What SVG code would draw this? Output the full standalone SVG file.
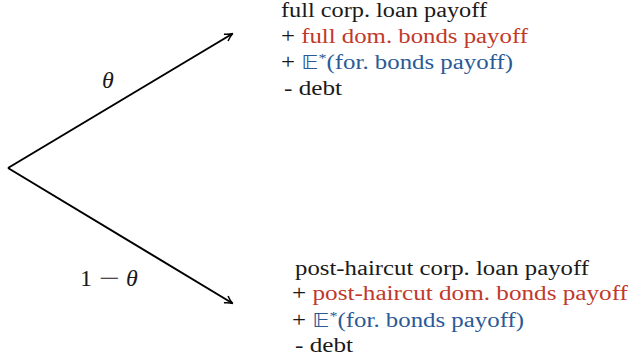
<svg xmlns="http://www.w3.org/2000/svg" width="629" height="362" viewBox="0 0 629 362">
<style>
.t{font-family:"Liberation Serif","DejaVu Serif",serif;font-size:20px;fill:#1a1a1a}
.r{fill:#c0392b}
.b{fill:#2a5a96}
.m{font-family:"Liberation Serif",serif;font-style:italic;font-size:24px;fill:#1a1a1a}
.n{font-style:normal}
.e{font-family:"DejaVu Sans",sans-serif;font-size:19px}
.c{stroke:#000;stroke-width:2;fill:none}
</style>
<defs>
<marker id="ah" markerWidth="12" markerHeight="12" refX="9" refY="6" orient="auto" markerUnits="userSpaceOnUse">
<path d="M2,2 Q6,5 10,6 Q6,7 2,10" fill="none" stroke="#000" stroke-width="1.5"/>
</marker>
</defs>
<rect width="629" height="362" fill="#fff"/>
<g id="connectors">
<line class="c" x1="8" y1="168" x2="232" y2="34" marker-end="url(#ah)"/>
<line class="c" x1="8" y1="168" x2="232" y2="303" marker-end="url(#ah)"/>
<text class="m" x="102" y="88">θ</text>
<text class="m" y="286"><tspan class="n" x="80">1</tspan><tspan class="n" x="99" textLength="21" lengthAdjust="spacingAndGlyphs">−</tspan><tspan x="126">θ</tspan></text>
</g>
<g id="top">
<text class="t" x="281" y="17" textLength="206" lengthAdjust="spacingAndGlyphs">full corp. loan payoff</text>
<text class="t" x="281" y="43" textLength="247" lengthAdjust="spacingAndGlyphs">+ <tspan class="r">full dom. bonds payoff</tspan></text>
<text class="t" x="281" y="69" textLength="232" lengthAdjust="spacingAndGlyphs">+ <tspan class="b"><tspan class="e">𝔼</tspan><tspan font-size="13" dy="-7">*</tspan><tspan dy="7">(for. bonds payoff)</tspan></tspan></text>
<text class="t" x="284" y="95" textLength="58" lengthAdjust="spacingAndGlyphs">- debt</text>
</g>
<g id="bottom">
<text class="t" x="295" y="275" textLength="294" lengthAdjust="spacingAndGlyphs">post-haircut corp. loan payoff</text>
<text class="t" x="292" y="300" textLength="336" lengthAdjust="spacingAndGlyphs">+ <tspan class="r">post-haircut dom. bonds payoff</tspan></text>
<text class="t" x="292" y="327" textLength="232" lengthAdjust="spacingAndGlyphs">+ <tspan class="b"><tspan class="e">𝔼</tspan><tspan font-size="13" dy="-7">*</tspan><tspan dy="7">(for. bonds payoff)</tspan></tspan></text>
<text class="t" x="295" y="352" textLength="58" lengthAdjust="spacingAndGlyphs">- debt</text>
</g>
</svg>
